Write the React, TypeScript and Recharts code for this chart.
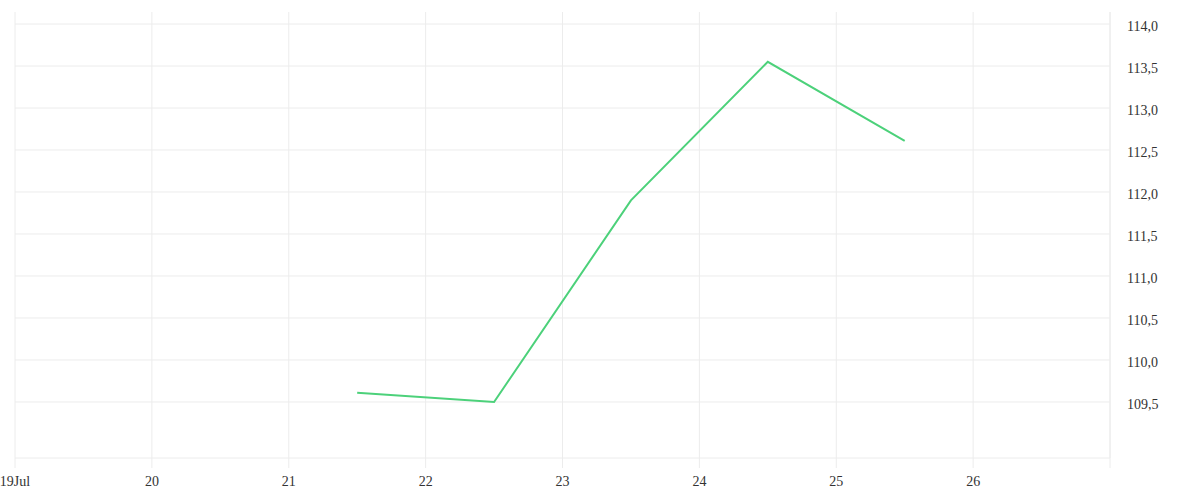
import React from 'react';
import { LineChart, Line, XAxis, YAxis, CartesianGrid, ReferenceLine } from 'recharts';

const days = [21.5, 22.5, 23.5, 24.5, 25.5];
const prices = [109.61, 109.5, 111.9, 113.55, 112.61];
const xTicks = [19, 20, 21, 22, 23, 24, 25, 26, 27];
const yTicks = [109.5, 110, 110.5, 111, 111.5, 112, 112.5, 113, 113.5, 114];

const data = days.map((d, i) => ({ day: d, price: prices[i] }));

const FONT = '"Liberation Serif", serif';
const TEXT_COLOR = '#333';
const GRID = '#ececec';

const YTick = (props: any) => {
  const { x, y, payload } = props;
  return (
    <text x={x} y={y} dy={7} textAnchor="start" fontFamily={FONT} fontSize={14} fill={TEXT_COLOR}>
      {Number(payload.value).toFixed(1).replace('.', ',')}
    </text>
  );
};

const XTick = (props: any) => {
  const { x, y, payload } = props;
  const v = payload.value;
  const label = v === 19 ? '19Jul' : v === 27 ? '' : String(v);
  return (
    <text x={x} y={y} dy={10} textAnchor="middle" fontFamily={FONT} fontSize={14} fill={TEXT_COLOR}>
      {label}
    </text>
  );
};

export default function App() {
  return (
    <div style={{ position: 'absolute', left: 0, top: 0, width: 1200, height: 500, background: '#fff' }}>
      <LineChart width={1200} height={500} data={data} margin={{ top: 12, right: 0, bottom: 0, left: 15 }}>
        <CartesianGrid stroke={GRID} strokeWidth={1} horizontal={false} />
        {yTicks.map((t) => (
          <ReferenceLine key={t} y={t} stroke={GRID} strokeWidth={1} ifOverflow="visible" />
        ))}
        <XAxis
          dataKey="day"
          type="number"
          domain={[19, 27]}
          ticks={xTicks}
          interval={0}
          height={42}
          tickSize={10}
          tickMargin={8}
          axisLine={{ stroke: GRID }}
          tickLine={{ stroke: GRID }}
          tick={<XTick />}
          allowDataOverflow
        />
        <YAxis
          orientation="right"
          type="number"
          domain={[108.833, 114.143]}
          ticks={yTicks}
          interval={0}
          width={90}
          axisLine={{ stroke: GRID }}
          tickLine={false}
          tickSize={0}
          tickMargin={17}
          tick={<YTick />}
          allowDataOverflow
        />
        <Line
          type="linear"
          dataKey="price"
          stroke="#4cd17a"
          strokeWidth={2}
          dot={false}
          activeDot={false}
          isAnimationActive={false}
        />
      </LineChart>
    </div>
  );
}
